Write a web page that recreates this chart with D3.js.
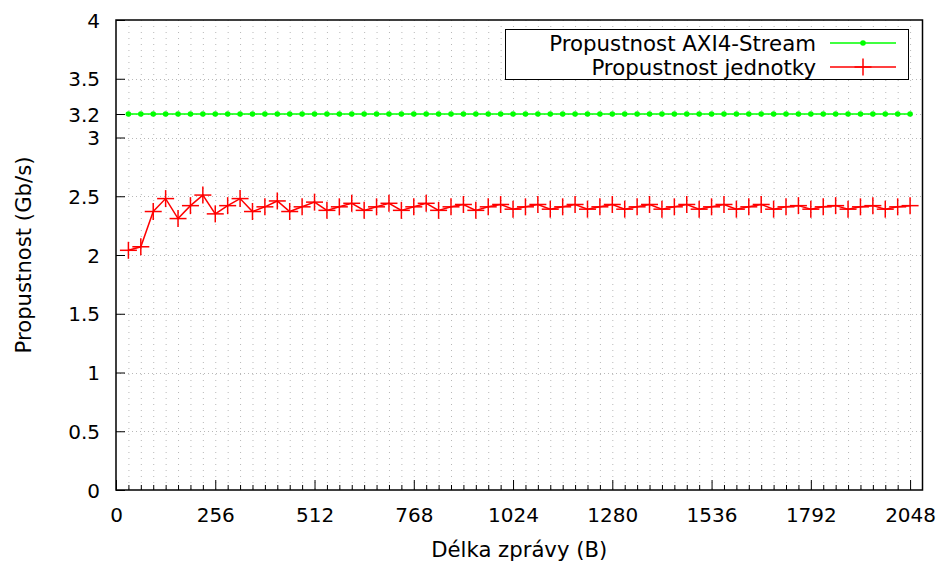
<!DOCTYPE html>
<html><head><meta charset="utf-8">
<script src="https://cdn.jsdelivr.net/npm/d3@7"></script>
<style>body{margin:0;background:#fff}svg{display:block;font-family:"DejaVu Sans",sans-serif}</style>
</head><body><svg id="c" width="941" height="562"></svg>
<script>
const msgLengths = d3.range(1, 65).map(i => i * 32);
const axiThroughput = msgLengths.map(() => 3.2);
const unitThroughput = [
 2.04,2.07,2.37,2.48,2.31,2.42,2.51,2.35,2.42,2.48,
 2.37,2.41,2.46,2.37,2.41,2.45,2.38,2.41,2.44,2.38,
 2.41,2.44,2.38,2.41,2.44,2.38,2.41,2.43,2.38,2.41,
 2.43,2.39,2.41,2.43,2.39,2.41,2.43,2.39,2.41,2.43,
 2.39,2.41,2.43,2.39,2.41,2.43,2.39,2.41,2.43,2.39,
 2.41,2.43,2.39,2.41,2.42,2.39,2.41,2.42,2.39,2.41,
 2.42,2.39,2.41,2.42];
const xTicks = [0,256,512,768,1024,1280,1536,1792,2048];
const yTicks = [0,0.5,1,1.5,2,2.5,3,3.2,3.5,4];
const seriesNames = ["Propustnost AXI4-Stream","Propustnost jednotky"];

const svg = d3.select("#c");
const L=116, R=922.5, T=20, B=490;
const x = d3.scaleLinear().domain([0,2080]).range([L,R]);
const y = d3.scaleLinear().domain([0,4]).range([B,T]);
const minorX = d3.range(0, 2080, 32);

// grid
const g = svg.append("g");
g.selectAll(".vg").data(minorX.filter(v=>v>0)).join("line")
 .attr("x1",d=>x(d)+0.5).attr("x2",d=>x(d)+0.5).attr("y1",T).attr("y2",B)
 .attr("stroke","#b8b8b8").attr("stroke-width",1).attr("stroke-dasharray","1,5");
g.selectAll(".hg").data(yTicks.filter(v=>v>0&&v<4)).join("line")
 .attr("x1",L).attr("x2",R).attr("y1",d=>Math.round(y(d))+0.5).attr("y2",d=>Math.round(y(d))+0.5)
 .attr("stroke","#b8b8b8").attr("stroke-width",1).attr("stroke-dasharray","1,3");

// axes
const xAxis = d3.axisBottom(x).tickValues(xTicks).tickSize(-10).tickPadding(18).tickFormat(d3.format("d"));
const xMinor = d3.axisBottom(x).tickValues(minorX.filter(v=>xTicks.indexOf(v)<0)).tickSize(-5).tickFormat("");
const yAxis = d3.axisLeft(y).tickValues(yTicks).tickSize(-9).tickPadding(16).tickFormat(d=>String(d));
function styleAx(sel){
  sel.select(".domain").remove();
  sel.selectAll(".tick line").attr("stroke","#000").attr("stroke-width",1);
  sel.selectAll("text").attr("font-size",20).attr("fill","#000").attr("font-family","DejaVu Sans");
}
svg.append("g").attr("transform",`translate(0,${B})`).call(xMinor).call(styleAx);
svg.append("g").attr("transform",`translate(0,${B})`).call(xAxis).call(styleAx)
 .selectAll("text").attr("dy","0.71em");
svg.append("g").attr("transform",`translate(${L},0)`).call(yAxis).call(styleAx)
 .selectAll("text").attr("dy","0.36em");

// series
const greenC="#00ff00", redC="#ff0000";
const line = d3.line().x(d=>x(d[0])).y(d=>y(d[1]));
const gData = msgLengths.map((v,i)=>[v,axiThroughput[i]]);
const rData = msgLengths.map((v,i)=>[v,unitThroughput[i]]);
svg.append("path").datum(gData).attr("d",line).attr("fill","none").attr("stroke",greenC).attr("stroke-width",1.5);
svg.append("g").selectAll("circle").data(gData).join("circle")
 .attr("cx",d=>x(d[0])).attr("cy",d=>y(d[1])).attr("r",2.8).attr("fill",greenC);
svg.append("path").datum(rData).attr("d",line).attr("fill","none").attr("stroke",redC).attr("stroke-width",1.5);
const cs=8.5;
const rp = svg.append("g").selectAll("g").data(rData).join("g").attr("transform",d=>`translate(${x(d[0])},${y(d[1])})`);
rp.append("line").attr("x1",-cs).attr("x2",cs).attr("y1",0).attr("y2",0).attr("stroke",redC).attr("stroke-width",1.5);
rp.append("line").attr("x1",0).attr("x2",0).attr("y1",-cs).attr("y2",cs).attr("stroke",redC).attr("stroke-width",1.5);

// legend
const lg = svg.append("g");
lg.append("rect").attr("x",505.5).attr("y",29.5).attr("width",403).attr("height",50).attr("fill","#fff").attr("stroke","#000").attr("stroke-width",1);
const rows=[43,67];
lg.selectAll("text").data(seriesNames).join("text").attr("x",816).attr("y",(d,i)=>rows[i]).attr("dy","0.36em")
 .attr("text-anchor","end").attr("font-size",21.3).attr("fill","#000").text(d=>d);
lg.append("line").attr("x1",830).attr("x2",896).attr("y1",rows[0]).attr("y2",rows[0]).attr("stroke",greenC).attr("stroke-width",1.5);
lg.append("circle").attr("cx",863).attr("cy",rows[0]).attr("r",2.8).attr("fill",greenC);
lg.append("line").attr("x1",830).attr("x2",896).attr("y1",rows[1]).attr("y2",rows[1]).attr("stroke",redC).attr("stroke-width",1.5);
lg.append("line").attr("x1",863-cs).attr("x2",863+cs).attr("y1",rows[1]).attr("y2",rows[1]).attr("stroke",redC).attr("stroke-width",1.5);
lg.append("line").attr("x1",863).attr("x2",863).attr("y1",rows[1]-cs).attr("y2",rows[1]+cs).attr("stroke",redC).attr("stroke-width",1.5);

// frame
svg.append("rect").attr("x",L).attr("y",T).attr("width",R-L).attr("height",B-T).attr("fill","none").attr("stroke","#000").attr("stroke-width",1.5);

// titles
svg.append("text").attr("x",(L+R)/2).attr("y",557).attr("text-anchor","middle").attr("font-size",21.2).text("Délka zprávy (B)");
svg.append("text").attr("transform",`translate(31,${(T+B)/2}) rotate(-90)`).attr("text-anchor","middle").attr("font-size",21.2).text("Propustnost (Gb/s)");
</script></body></html>
